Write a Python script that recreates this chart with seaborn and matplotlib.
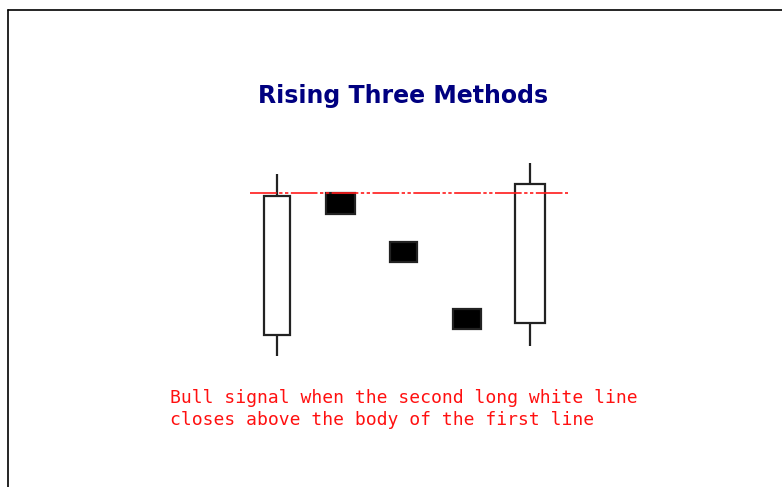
import numpy as np
import matplotlib
matplotlib.use("Agg")
from matplotlib import pyplot as plt
from matplotlib.lines import Line2D
import seaborn as sns

# candle data (arbitrary price units)
days = [0, 1, 2, 3, 4]
opens = [45, 187, 138, 71, 57]
closes = [184, 166, 118, 51, 196]
highs = [206, 187, 138, 71, 217]
lows = [24, 166, 118, 51, 34]
signal_level = 187

title = 'Rising Three Methods'
note = 'Bull signal when the second long white line\ncloses above the body of the first line'

sns.set_theme(style="white")

fig = plt.figure(figsize=(7.82, 4.87), dpi=100)
ax = fig.add_axes([0, 0, 1, 1])
ax.set_xlim(-4.379, 7.984)
ax.set_ylim(-107, 380)
ax.axis('off')

# wicks
ax.vlines(days, lows, highs, color='#222222', lw=1.6, zorder=1)

# bodies
bottoms = np.minimum(opens, closes)
heights = np.abs(np.array(closes) - np.array(opens))
colors = ['white' if c > o else 'black' for o, c in zip(opens, closes)]
widths = [0.42, 0.46, 0.44, 0.44, 0.46]
ax.bar(days, heights, bottom=bottoms, width=widths, color=colors,
       edgecolor='#222222', linewidth=1.6, zorder=2)

# red signal line
ax.plot([-0.43, 4.6], [signal_level, signal_level], color='#ff1a1a',
        lw=1.2, linestyle=(0, (16, 1.5, 2, 1.5, 2, 1.5)), zorder=3)

ax.text(2.0, 284, title, ha='center', va='center', color='#000080',
        fontsize=17, fontweight='bold', family='DejaVu Sans')
ax.text(-1.69, -29, note, ha='left', va='center', color='#ff1010',
        fontsize=13, linespacing=1.3, family='DejaVu Sans Mono')

# frame (cropped at right and bottom)
fig.add_artist(Line2D([8/782, 8/782], [0, 1 - 10/487], color='black', lw=1.2,
                      transform=fig.transFigure))
fig.add_artist(Line2D([8/782, 1], [1 - 10/487, 1 - 10/487], color='black', lw=1.2,
                      transform=fig.transFigure))

plt.savefig('out.png', dpi=100)
